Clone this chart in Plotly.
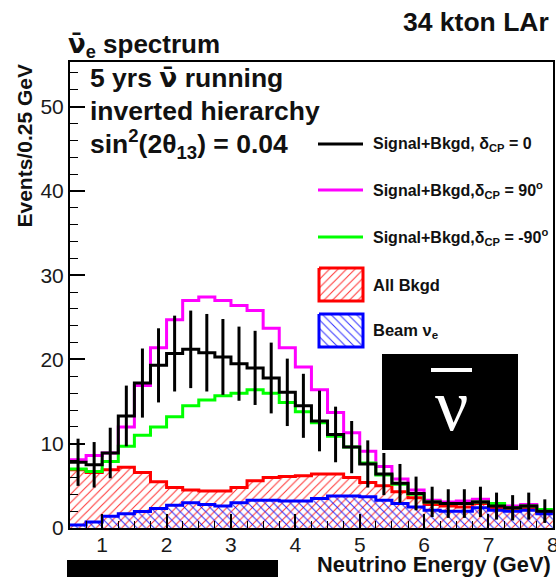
import plotly.graph_objects as go

# ---------------- data ----------------
bin_width = 0.25
e_min = 0.5
n_bins = 30
energy_edges = [e_min + bin_width * i for i in range(n_bins + 1)]
energy_centers = [e_min + bin_width * (i + 0.5) for i in range(n_bins)]

sig_bkg_dcp0 = [7.8, 7.5, 8.9, 13.3, 17.2, 19.3, 20.7, 21.2, 20.8, 20.3,
                19.5, 19.0, 17.8, 16.1, 14.5, 12.7, 11.1, 9.6, 7.6, 6.4,
                5.3, 4.1, 3.1, 2.9, 2.9, 3.1, 2.6, 2.4, 2.6, 2.0]
sig_bkg_dcp0_err = [2.8, 2.7, 3.0, 3.6, 4.1, 4.4, 4.5, 4.6, 4.6, 4.5,
                    4.4, 4.4, 4.2, 4.0, 3.8, 3.6, 3.3, 3.1, 2.8, 2.5,
                    2.3, 2.0, 1.8, 1.7, 1.7, 1.8, 1.6, 1.5, 1.6, 1.4]
sig_bkg_dcp90 = [8.1, 8.6, 8.9, 12.0, 16.9, 21.4, 24.7, 27.0, 27.4, 27.0,
                 26.4, 25.8, 23.7, 21.4, 19.1, 16.4, 13.7, 11.3, 9.1, 7.3,
                 5.8, 4.5, 3.3, 3.1, 3.2, 3.4, 2.8, 2.6, 2.8, 2.1]
sig_bkg_dcpm90 = [7.0, 6.7, 7.9, 9.7, 11.0, 12.0, 13.2, 14.5, 15.2, 15.7,
                  16.0, 16.4, 16.0, 14.9, 13.8, 12.5, 10.9, 9.6, 7.7, 6.3,
                  5.2, 4.0, 3.1, 2.9, 2.9, 3.1, 2.9, 2.4, 2.6, 2.2]
all_bkgd = [6.9, 6.6, 6.9, 7.2, 6.6, 5.5, 4.8, 4.5, 4.4, 4.4,
            4.8, 5.6, 6.0, 6.1, 6.2, 6.4, 6.4, 6.0, 5.4, 5.0,
            4.3, 3.6, 2.8, 2.6, 2.5, 2.9, 2.4, 2.2, 2.4, 1.9]
beam_nue = [0.35, 0.7, 1.4, 1.7, 1.95, 2.3, 2.7, 3.0, 2.8, 2.6,
            3.0, 3.3, 3.3, 3.2, 3.2, 3.5, 3.8, 3.8, 3.7, 3.3,
            2.9, 2.5, 2.1, 2.0, 2.0, 2.4, 2.1, 2.0, 2.1, 1.7]

x_ticks = [1, 2, 3, 4, 5, 6, 7, 8]
y_ticks = [0, 10, 20, 30, 40, 50]

# ---------------- geometry helpers ----------------
W, H = 556, 577
PL, PR, PT, PB = 70, 553, 62, 528


def fx(px):
    return px / W


def fy(py):
    return 1 - py / H


def step(vals):
    return list(vals) + [vals[-1]]


FONT = "Liberation Sans, Arial, Helvetica, sans-serif"
NUBAR = "<span style='font-family:DejaVu Sans'>\u03bd\u0304</span>"

fig = go.Figure()

hatch_red = dict(shape="/", fgcolor="#ff0000", bgcolor="rgba(255,255,255,0)",
                 size=6, solidity=0.17, fgopacity=0.8)
hatch_blue = dict(shape="\\", fgcolor="#0000ff", bgcolor="rgba(255,255,255,0)",
                  size=6, solidity=0.17, fgopacity=0.8)

fig.add_trace(go.Scatter(
    x=energy_edges, y=step(all_bkgd), mode="lines", line_shape="hv",
    line=dict(color="#ff0000", width=3), fill="tozeroy",
    fillcolor="rgba(255,255,255,0)", fillpattern=hatch_red,
    showlegend=False, hoverinfo="skip"))
fig.add_trace(go.Scatter(
    x=energy_edges, y=step(beam_nue), mode="lines", line_shape="hv",
    line=dict(color="#0000ff", width=3), fill="tozeroy",
    fillcolor="rgba(255,255,255,0)", fillpattern=hatch_blue,
    showlegend=False, hoverinfo="skip"))
fig.add_trace(go.Scatter(
    x=energy_edges, y=step(sig_bkg_dcp90), mode="lines", line_shape="hv",
    line=dict(color="#ff00ff", width=3), showlegend=False, hoverinfo="skip"))
fig.add_trace(go.Scatter(
    x=energy_edges, y=step(sig_bkg_dcpm90), mode="lines", line_shape="hv",
    line=dict(color="#00ff00", width=3), showlegend=False, hoverinfo="skip"))
fig.add_trace(go.Scatter(
    x=energy_edges, y=step(sig_bkg_dcp0), mode="lines", line_shape="hv",
    line=dict(color="#000000", width=3), showlegend=False, hoverinfo="skip"))
fig.add_trace(go.Scatter(
    x=energy_centers, y=sig_bkg_dcp0, mode="markers",
    marker=dict(size=1, color="rgba(0,0,0,0)"),
    error_y=dict(type="data", array=sig_bkg_dcp0_err, visible=True,
                 color="#000000", thickness=3, width=0),
    showlegend=False, hoverinfo="skip"))

# legend boxes on a pixel overlay of the plot area
fig.add_trace(go.Scatter(
    x=[319, 363, 363, 319, 319], y=[268, 268, 301, 301, 268],
    xaxis="x2", yaxis="y2", mode="lines", fill="toself",
    line=dict(color="#ff0000", width=3), fillcolor="rgba(255,255,255,0)",
    fillpattern=hatch_red, showlegend=False, hoverinfo="skip"))
fig.add_trace(go.Scatter(
    x=[319, 363, 363, 319, 319], y=[314, 314, 347, 347, 314],
    xaxis="x2", yaxis="y2", mode="lines", fill="toself",
    line=dict(color="#0000ff", width=3), fillcolor="rgba(255,255,255,0)",
    fillpattern=hatch_blue, showlegend=False, hoverinfo="skip"))

shapes = []
for yy, col in [(144, "#000000"), (190, "#ff00ff"), (237, "#00ff00")]:
    shapes.append(dict(type="line", xref="paper", yref="paper",
                       x0=fx(318), x1=fx(363), y0=fy(yy), y1=fy(yy),
                       line=dict(color=col, width=3)))
shapes.append(dict(type="rect", xref="paper", yref="paper",
                   x0=fx(382), x1=fx(518), y0=fy(450), y1=fy(354),
                   fillcolor="#000000", line=dict(width=0)))
shapes.append(dict(type="rect", xref="paper", yref="paper",
                   x0=fx(431), x1=fx(472), y0=fy(372), y1=fy(368),
                   fillcolor="#ffffff", line=dict(width=0)))
shapes.append(dict(type="rect", xref="paper", yref="paper",
                   x0=fx(67), x1=fx(278), y0=fy(577), y1=fy(560),
                   fillcolor="#000000", line=dict(width=0)))

ann = []


def text(x, y, s, size, xanchor="left", bold=True, color="#111111",
         family=FONT):
    ann.append(dict(xref="paper", yref="paper", x=fx(x), y=fy(y),
                    text=("<b>%s</b>" % s) if bold else s, showarrow=False,
                    xanchor=xanchor, yanchor="middle",
                    font=dict(size=size, color=color, family=family)))


text(551, 22, "34 kton LAr", 26.5, xanchor="right")
text(66, 45, NUBAR + "<sub>e</sub> spectrum", 26)
text(88, 78, "5 yrs " + NUBAR + " running", 26.5)
text(88, 111, "inverted hierarchy", 26.5)
text(88, 144, "sin<sup>2</sup>(2\u03b8<sub>13</sub>) = 0.04", 26.5)

text(371, 144, "Signal+Bkgd, \u03b4<sub>CP</sub> = 0", 16)
text(371, 190, "Signal+Bkgd,\u03b4<sub>CP</sub> = 90<sup>o</sup>", 16)
text(371, 237, "Signal+Bkgd,\u03b4<sub>CP</sub> = -90<sup>o</sup>", 16)
text(371, 285, "All Bkgd", 16.5)
text(371, 331, "Beam \u03bd<sub>e</sub>", 16.5)

text(451, 405, "\u03bd", 74, xanchor="center", bold=False, color="#ffffff",
     family="Liberation Serif, DejaVu Serif, serif")

text(553, 564, "Neutrino Energy (GeV)", 21.8, xanchor="right")
ann.append(dict(xref="paper", yref="paper", x=fx(24), y=fy(63),
                text="<b>Events/0.25 GeV</b>", showarrow=False,
                xanchor="center", yanchor="top", textangle=-90,
                font=dict(size=21, color="#111111", family=FONT)))

fig.update_layout(
    width=W, height=H,
    margin=dict(l=0, r=0, t=0, b=0, autoexpand=False),
    paper_bgcolor="white", plot_bgcolor="white",
    showlegend=False,
    shapes=shapes, annotations=ann,
    xaxis=dict(domain=[fx(PL), fx(PR)], range=[0.5, 8.002],
               tickmode="array", tickvals=x_ticks, ticklabeloverflow="allow",
               ticklabelstandoff=-3,
               ticks="inside", ticklen=14, tickwidth=1.5, tickcolor="#000",
               showline=True, mirror=True, linecolor="#000", linewidth=2,
               showgrid=False, zeroline=False,
               minor=dict(dtick=0.25, tick0=0.5, ticks="inside", ticklen=7,
                          tickwidth=1.2, tickcolor="#000"),
               tickfont=dict(size=21, family=FONT, color="#1a1a1a")),
    yaxis=dict(domain=[fy(PB), fy(PT)], range=[0, 55.3],
               tickmode="array", tickvals=y_ticks,
               ticks="inside", ticklen=15, tickwidth=1.5, tickcolor="#000",
               showline=True, mirror=True, linecolor="#000", linewidth=2,
               showgrid=False, zeroline=False,
               minor=dict(dtick=2, tick0=0, ticks="inside", ticklen=8,
                          tickwidth=1.2, tickcolor="#000"),
               tickfont=dict(size=21, family=FONT, color="#1a1a1a")),
    xaxis2=dict(range=[PL, PR], visible=False, overlaying="x", anchor="y2"),
    yaxis2=dict(range=[PB, PT], visible=False, overlaying="y", anchor="x2"),
)

fig.write_html("out.html")
